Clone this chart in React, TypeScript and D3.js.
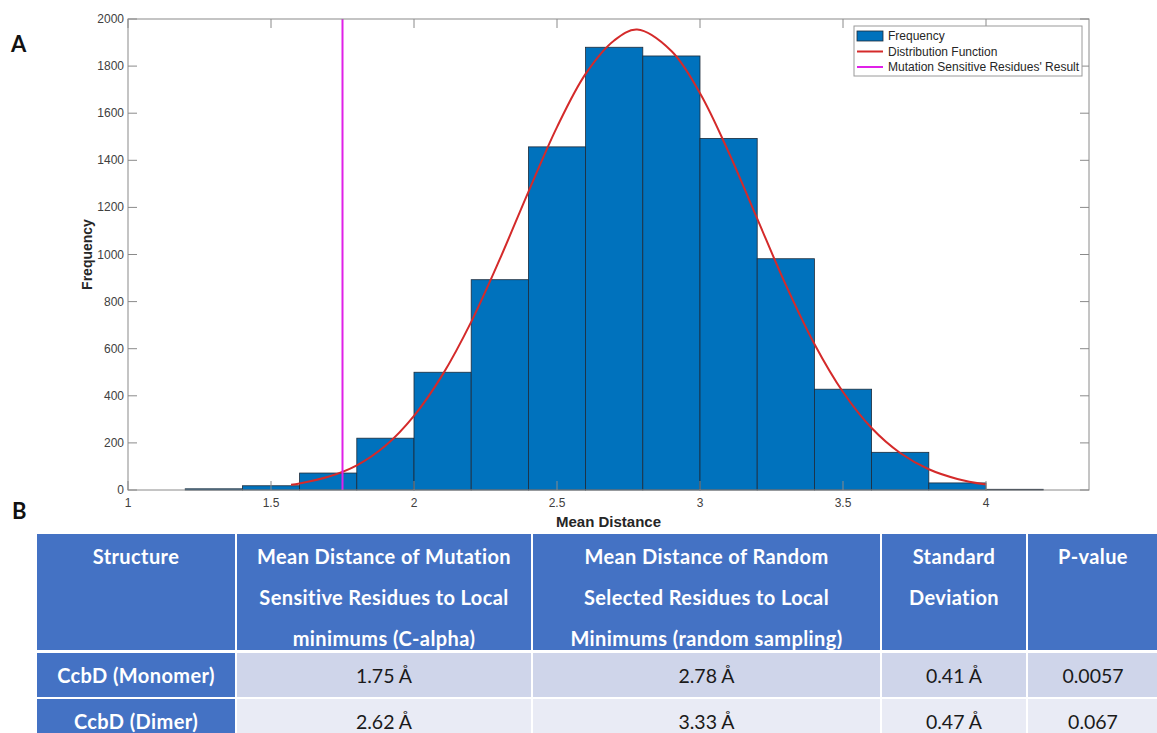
import React from "react";
import * as d3 from "d3";

// Histogram bins (left edges) and counts
const binStarts = [1.2, 1.4, 1.6, 1.8, 2.0, 2.2, 2.4, 2.6, 2.8, 3.0, 3.2, 3.4, 3.6, 3.8, 4.0];
const binCounts = [5, 18, 72, 220, 500, 893, 1457, 1880, 1843, 1493, 982, 428, 160, 30, 3];
const binWidth = 0.2;

// Fitted distribution curve
const curveX = [1.57, 1.6, 1.7, 1.8, 1.9, 2.0, 2.1, 2.2, 2.3, 2.4, 2.5, 2.6, 2.7, 2.78, 2.9, 3.0, 3.1, 3.2, 3.3, 3.4, 3.5, 3.6, 3.7, 3.8, 3.9, 4.0];
const curveY = [22, 28, 56, 105, 188, 315, 490, 714, 980, 1266, 1541, 1767, 1909, 1955, 1864, 1685, 1435, 1152, 871, 620, 416, 263, 157, 88, 47, 23];

const mutationResult = 1.75;

const xTicks = [1, 1.5, 2, 2.5, 3, 3.5, 4];
const yTicks = [0, 200, 400, 600, 800, 1000, 1200, 1400, 1600, 1800, 2000];

const legendLabels = ["Frequency", "Distribution Function", "Mutation Sensitive Residues' Result"];

// Table
const tableHeaders = [
  ["Structure"],
  ["Mean Distance of Mutation", "Sensitive Residues to Local", "minimums (C-alpha)"],
  ["Mean Distance of Random", "Selected Residues to Local", "Minimums (random sampling)"],
  ["Standard", "Deviation"],
  ["P-value"],
];
const rowStructures = ["CcbD (Monomer)", "CcbD (Dimer)"];
const rowMutation = ["1.75 Å", "2.62 Å"];
const rowRandom = ["2.78 Å", "3.33 Å"];
const rowStd = ["0.41 Å", "0.47 Å"];
const rowP = ["0.0057", "0.067"];

export default function App() {
  const W = 1157, H = 733;
  const left = 128, right = 1089, top = 19, bottom = 490;
  const x = d3.scaleLinear().domain([1, 1 + (right - left) / 286]).range([left, right]);
  const y = d3.scaleLinear().domain([0, 2000]).range([bottom, top]);
  const tick = 9;
  const axisColor = "#8a8a8a";
  const labelColor = "#404040";
  const font = "'Liberation Sans', Arial, Helvetica, sans-serif";

  const line = d3
    .line<number>()
    .x((_, i) => x(curveX[i]))
    .y((d) => y(d))
    .curve(d3.curveCatmullRom);

  // table geometry
  const colEdges = [37, 237, 533, 882, 1028, 1160];
  const headerTop = 534, headerBottom = 650;
  const rowTops = [653, 699];
  const rowBottoms = [697, 745];
  const headerFill = "#4472C4";
  const rowFills = ["#CFD5EA", "#E9EBF5"];
  const tfont = "Lato, 'Open Sans', sans-serif";
  const rowCells = [rowMutation, rowRandom, rowStd, rowP];

  return (
    <svg
      width={W}
      height={H}
      style={{ position: "absolute", left: 0, top: 0, background: "#fff" }}
      fontFamily={font}
    >
      <rect x={0} y={0} width={W} height={H} fill="#fff" />
      {/* Panel labels */}
      <text x={11} y={52} fontSize={22} fontWeight="bold" fontFamily={tfont} fill="#111">A</text>
      <text x={12} y={519} fontSize={22} fontWeight="bold" fontFamily={tfont} fill="#111">B</text>

      {/* Bars */}
      {binStarts.map((s, i) => (
        <rect
          key={i}
          x={x(s)}
          y={y(binCounts[i])}
          width={x(s + binWidth) - x(s)}
          height={y(0) - y(binCounts[i])}
          fill="#0072BD"
          stroke="#1d2b3a"
          strokeWidth={0.8}
        />
      ))}

      {/* Distribution curve */}
      <path d={line(curveY) || ""} fill="none" stroke="#d42a2a" strokeWidth={2} />

      {/* Mutation line */}
      <line x1={x(mutationResult)} x2={x(mutationResult)} y1={top} y2={bottom} stroke="#e020e8" strokeWidth={2} />

      {/* Axes box */}
      <rect x={left} y={top} width={right - left} height={bottom - top} fill="none" stroke={axisColor} strokeWidth={1} />
      {xTicks.map((t) => (
        <g key={"xt" + t}>
          <line x1={x(t)} x2={x(t)} y1={bottom} y2={bottom - tick} stroke={axisColor} />
          <line x1={x(t)} x2={x(t)} y1={top} y2={top + tick} stroke={axisColor} />
          <text x={x(t)} y={507} fontSize={12} textAnchor="middle" fill={labelColor}>{t}</text>
        </g>
      ))}
      {yTicks.map((t) => (
        <g key={"yt" + t}>
          <line x1={left} x2={left + tick} y1={y(t)} y2={y(t)} stroke={axisColor} />
          <line x1={right} x2={right - tick} y1={y(t)} y2={y(t)} stroke={axisColor} />
          <text x={124} y={y(t) + 4} fontSize={12} textAnchor="end" fill={labelColor}>{t}</text>
        </g>
      ))}
      <text x={(left + right) / 2} y={527} fontSize={15} fontWeight="bold" textAnchor="middle" fill="#262626">Mean Distance</text>
      <text transform={`translate(92, ${(top + bottom) / 2}) rotate(-90)`} fontSize={14} fontWeight="bold" textAnchor="middle" fill="#262626">Frequency</text>

      {/* Legend */}
      <rect x={854} y={26} width={228} height={50} fill="#fff" stroke="#9a9a9a" strokeWidth={1} />
      <rect x={857} y={31} width={26} height={10} fill="#0072BD" stroke="#1d2b3a" strokeWidth={0.8} />
      <line x1={857} x2={883} y1={51.5} y2={51.5} stroke="#d42a2a" strokeWidth={2} />
      <line x1={857} x2={883} y1={67} y2={67} stroke="#e020e8" strokeWidth={2} />
      {legendLabels.map((l, i) => (
        <text key={l} x={888} y={40 + i * 15.5} fontSize={12} fill="#262626">{l}</text>
      ))}

      {/* Table */}
      {tableHeaders.map((lines, c) => (
        <g key={"h" + c}>
          <rect x={colEdges[c]} y={headerTop} width={colEdges[c + 1] - colEdges[c] - 2} height={headerBottom - headerTop} fill={headerFill} />
          {lines.map((ln, j) => (
            <text key={j} x={(colEdges[c] + colEdges[c + 1] - 2) / 2} y={564 + j * 41} fontSize={20} letterSpacing={0.4} fontWeight="bold" textAnchor="middle" fill="#fff" fontFamily={tfont}>{ln}</text>
          ))}
        </g>
      ))}
      {rowStructures.map((s, r) => (
        <g key={"r" + r}>
          <rect x={colEdges[0]} y={rowTops[r]} width={colEdges[1] - colEdges[0] - 2} height={rowBottoms[r] - rowTops[r]} fill={headerFill} />
          <text x={(colEdges[0] + colEdges[1] - 2) / 2} y={rowTops[r] + 30} fontSize={20} letterSpacing={0.4} fontWeight="bold" textAnchor="middle" fill="#fff" fontFamily={tfont}>{s}</text>
          {rowCells.map((vals, c) => (
            <g key={c}>
              <rect x={colEdges[c + 1]} y={rowTops[r]} width={colEdges[c + 2] - colEdges[c + 1] - 2} height={rowBottoms[r] - rowTops[r]} fill={rowFills[r]} />
              <text x={(colEdges[c + 1] + colEdges[c + 2] - 2) / 2} y={rowTops[r] + 30} fontSize={19.5} textAnchor="middle" fill="#1a1a1a" fontFamily={tfont}>{vals[r]}</text>
            </g>
          ))}
        </g>
      ))}
    </svg>
  );
}
